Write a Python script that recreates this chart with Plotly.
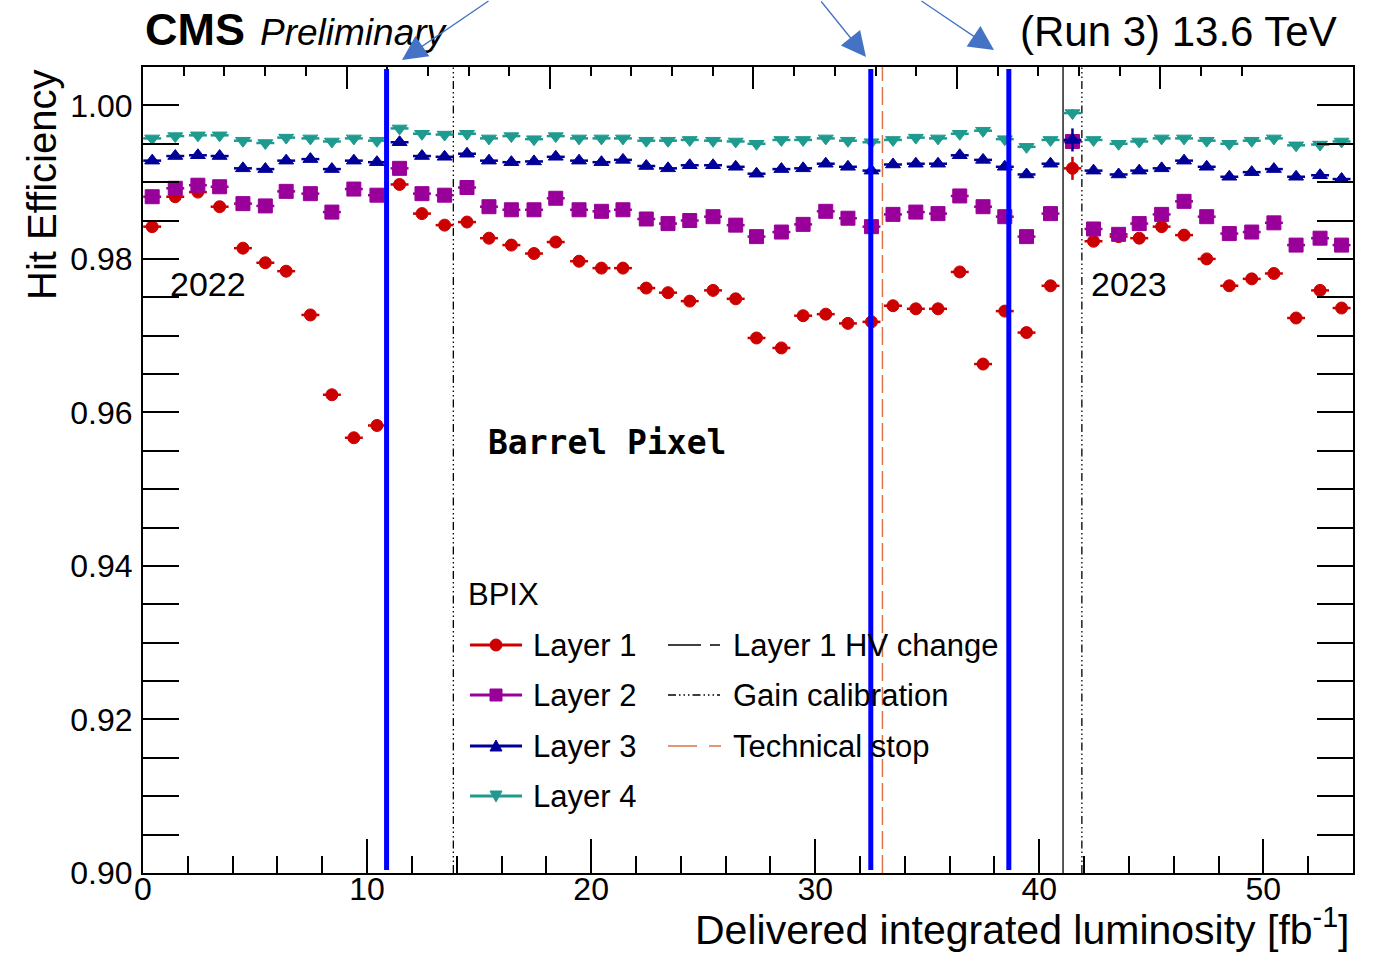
import plotly.graph_objects as go

# ---------------- data ----------------
lumi = [0.41, 1.44, 2.45, 3.42, 4.46, 5.46, 6.39, 7.47, 8.43, 9.41, 10.44,
        11.45, 12.45, 13.46, 14.46, 15.44, 16.44, 17.45, 18.42, 19.46, 20.46,
        21.42, 22.46, 23.43, 24.40, 25.44, 26.45, 27.38, 28.49, 29.46, 30.47,
        31.46, 32.51, 33.47, 34.49, 35.48, 36.45, 37.49, 38.46, 39.43, 40.50,
        42.42, 43.54, 44.46, 45.46, 46.46, 47.47, 48.48, 49.48, 50.47, 51.46,
        52.53, 53.49]

layer1 = [0.9842, 0.9881, 0.9887, 0.9868, 0.9814, 0.9795, 0.9784, 0.9727, 0.9623,
          0.9567, 0.9583, 0.9897, 0.9859, 0.9844, 0.9848, 0.9827, 0.9818, 0.9807,
          0.9822, 0.9797, 0.9788, 0.9788, 0.9762, 0.9756, 0.9745, 0.9759, 0.9748,
          0.9697, 0.9684, 0.9726, 0.9728, 0.9716, 0.9718, 0.9739, 0.9735, 0.9735,
          0.9783, 0.9663, 0.9732, 0.9704, 0.9765,
          0.9823, 0.9829, 0.9827, 0.9842, 0.9831, 0.9800, 0.9765, 0.9774, 0.9781,
          0.9723, 0.9759, 0.9736]
layer2 = [0.9881, 0.9892, 0.9896, 0.9894, 0.9872, 0.9869, 0.9888, 0.9885, 0.9861,
          0.9891, 0.9883, 0.9918, 0.9885, 0.9883, 0.9893, 0.9868, 0.9864, 0.9864,
          0.9879, 0.9864, 0.9862, 0.9864, 0.9852, 0.9846, 0.9850, 0.9855, 0.9844,
          0.9829, 0.9835, 0.9845, 0.9862, 0.9853, 0.9842, 0.9858, 0.9861, 0.9859,
          0.9882, 0.9868, 0.9855, 0.9829, 0.9859,
          0.9839, 0.9832, 0.9846, 0.9858, 0.9875, 0.9855, 0.9833, 0.9835, 0.9847,
          0.9818, 0.9827, 0.9818]
layer3 = [0.9928, 0.9934, 0.9935, 0.9934, 0.9918, 0.9917, 0.9928, 0.9930, 0.9917,
          0.9928, 0.9926, 0.9952, 0.9934, 0.9933, 0.9937, 0.9928, 0.9926, 0.9927,
          0.9933, 0.9928, 0.9926, 0.9929, 0.9921, 0.9918, 0.9922, 0.9922, 0.9920,
          0.9911, 0.9917, 0.9918, 0.9924, 0.9920, 0.9915, 0.9923, 0.9924, 0.9924,
          0.9935, 0.9929, 0.9920, 0.9910, 0.9924,
          0.9915, 0.9910, 0.9915, 0.9918, 0.9928, 0.9920, 0.9907, 0.9913, 0.9917,
          0.9907, 0.9909, 0.9904]
layer4 = [0.9957, 0.9960, 0.9961, 0.9961, 0.9954, 0.9951, 0.9958, 0.9957, 0.9953,
          0.9957, 0.9954, 0.9970, 0.9963, 0.9962, 0.9963, 0.9957, 0.9960, 0.9956,
          0.9960, 0.9957, 0.9957, 0.9957, 0.9954, 0.9954, 0.9955, 0.9954, 0.9953,
          0.9950, 0.9955, 0.9955, 0.9957, 0.9954, 0.9952, 0.9955, 0.9958, 0.9957,
          0.9963, 0.9967, 0.9956, 0.9946, 0.9955,
          0.9955, 0.9950, 0.9953, 0.9957, 0.9957, 0.9954, 0.9950, 0.9954, 0.9957,
          0.9948, 0.9949, 0.9953]

# single low-statistics point between the 2022 and 2023 periods
special_lumi = [41.48]
special_vals = [0.9918, 0.9953, 0.9955, 0.9990]
special_errs = [0.0015, 0.0010, 0.0015, 0.0005]

layer_names = ["Layer 1", "Layer 2", "Layer 3", "Layer 4"]
layer_colors = ["#CC0000", "#990099", "#000099", "#1F9A8F"]
layer_symbols = ["circle", "square", "triangle-up", "triangle-down"]
layer_sizes = [12, 14, 13, 13]
x_half_width = 0.4

hv_change_x = [41.06]
gain_calib_x = [13.85, 41.9]
tech_stop_x = [33.0]
highlight_x = [10.87, 32.48, 38.64]

y_ticks = [0.90, 0.92, 0.94, 0.96, 0.98, 1.00]
x_ticks = [0, 10, 20, 30, 40, 50]
top_major = [5, 10, 15, 20, 25]
top_minor = [1, 2, 3, 4, 6, 7, 8, 9, 11, 12, 13, 14, 16, 17, 18, 19, 21, 22,
             23, 24, 26, 27]

# ---------------- geometry helpers ----------------
W, H = 1374, 953
L, R, T, B = 143, 1353, 67, 873


def px(x):
    return (x - L) / (R - L)


def py(y):
    return (B - y) / (B - T)


FONT = "Liberation Sans"
fig = go.Figure()

all_layers = [layer1, layer2, layer3, layer4]
for i in range(4):
    c = layer_colors[i]
    fig.add_trace(go.Scatter(
        x=lumi, y=all_layers[i], mode="markers", name=layer_names[i],
        marker=dict(symbol=layer_symbols[i], size=layer_sizes[i], color=c,
                    line=dict(width=1, color=c)),
        error_x=dict(type="constant", value=x_half_width, color=c,
                     thickness=2.5, width=0),
        showlegend=False))
for i in range(4):
    c = layer_colors[i]
    fig.add_trace(go.Scatter(
        x=special_lumi, y=[special_vals[i]], mode="markers",
        marker=dict(symbol=layer_symbols[i], size=layer_sizes[i], color=c,
                    line=dict(width=1, color=c)),
        error_x=dict(type="constant", value=x_half_width, color=c,
                     thickness=2.5, width=0),
        error_y=dict(type="constant", value=special_errs[i], color=c,
                     thickness=2.5, width=0),
        showlegend=False))

# empty trace to carry the top axis
fig.add_trace(go.Scatter(x=[], y=[], xaxis="x2", yaxis="y", showlegend=False))

shapes = []
for xv in gain_calib_x:
    shapes.append(dict(type="line", xref="x", yref="paper", x0=xv, x1=xv, y0=0, y1=1,
                       line=dict(color="black", width=1.3,
                                 dash="8px,3px,1.5px,3px,1.5px,3px,1.5px,3px"),
                       layer="below"))
for xv in hv_change_x:
    shapes.append(dict(type="line", xref="x", yref="paper", x0=xv, x1=xv, y0=0, y1=1,
                       line=dict(color="black", width=1.3), layer="below"))
for xv in tech_stop_x:
    shapes.append(dict(type="line", xref="x", yref="paper", x0=xv, x1=xv, y0=0, y1=1,
                       line=dict(color="#D9764A", width=1.5, dash="18px,6px"),
                       layer="below"))
for xv in highlight_x:
    shapes.append(dict(type="line", xref="x", yref="paper", x0=xv, x1=xv,
                       y0=py(870), y1=py(69),
                       line=dict(color="#0000FF", width=5), layer="above"))


def txt(text, x, y, size, xanchor="center", yanchor="middle", family=FONT, angle=0):
    return dict(text=text, x=px(x), y=py(y), xref="paper", yref="paper",
                xanchor=xanchor, yanchor=yanchor, showarrow=False, textangle=angle,
                font=dict(family=family, size=size, color="black"))


annotations = []
annotations.append(txt("<b>CMS</b>", 143, 30, 45, xanchor="left"))
annotations.append(txt("<i>Preliminary</i>", 258, 33, 37, xanchor="left"))
annotations.append(txt("(Run 3) 13.6 TeV", 1339, 31, 42, xanchor="right"))
annotations.append(txt("2022", 208, 284, 34))
annotations.append(txt("2023", 1129, 284, 34))
annotations.append(txt("<b>Barrel Pixel</b>", 607, 443, 33, family="DejaVu Sans Mono"))
annotations.append(txt("Hit Efficiency", 42, 185, 40, angle=-90))
annotations.append(txt("Delivered integrated luminosity [fb<sup>-1</sup>]", 1352, 955, 41,
                       xanchor="right", yanchor="bottom"))

# legend (drawn by hand, two columns)
annotations.append(txt("BPIX", 466, 594, 31, xanchor="left"))
row_y = [645, 695, 746, 796]
for i in range(4):
    yy = row_y[i]
    c = layer_colors[i]
    annotations.append(txt(layer_names[i], 531, yy, 31, xanchor="left"))
    shapes.append(dict(type="line", xref="paper", yref="paper", x0=px(470), x1=px(522),
                       y0=py(yy), y1=py(yy), line=dict(color=c, width=3)))
    cx = 496
    if i == 0:
        shapes.append(dict(type="circle", xref="paper", yref="paper", x0=px(cx - 6),
                           x1=px(cx + 6), y0=py(yy + 6), y1=py(yy - 6),
                           fillcolor=c, line=dict(color=c, width=1)))
    elif i == 1:
        shapes.append(dict(type="rect", xref="paper", yref="paper", x0=px(cx - 6),
                           x1=px(cx + 6), y0=py(yy + 6), y1=py(yy - 6),
                           fillcolor=c, line=dict(color=c, width=1)))
    elif i == 2:
        path = "M %f,%f L %f,%f L %f,%f Z" % (px(cx - 6), py(yy + 5), px(cx + 6), py(yy + 5),
                                             px(cx), py(yy - 6))
        shapes.append(dict(type="path", xref="paper", yref="paper", path=path,
                           fillcolor=c, line=dict(color=c, width=1)))
    else:
        path = "M %f,%f L %f,%f L %f,%f Z" % (px(cx - 6), py(yy - 5), px(cx + 6), py(yy - 5),
                                             px(cx), py(yy + 6))
        shapes.append(dict(type="path", xref="paper", yref="paper", path=path,
                           fillcolor=c, line=dict(color=c, width=1)))

right_names = ["Layer 1 HV change", "Gain calibration", "Technical stop"]
for j in range(3):
    annotations.append(txt(right_names[j], 731, row_y[j], 31, xanchor="left"))
# HV change sample: long dash + short dash
shapes.append(dict(type="line", xref="paper", yref="paper", x0=px(668), x1=px(701),
                   y0=py(row_y[0]), y1=py(row_y[0]), line=dict(color="black", width=1.5)))
shapes.append(dict(type="line", xref="paper", yref="paper", x0=px(710), x1=px(720),
                   y0=py(row_y[0]), y1=py(row_y[0]), line=dict(color="black", width=1.5)))
# gain calibration sample
shapes.append(dict(type="line", xref="paper", yref="paper", x0=px(668), x1=px(720),
                   y0=py(row_y[1]), y1=py(row_y[1]),
                   line=dict(color="black", width=1.3,
                             dash="8px,3px,1.5px,3px,1.5px,3px,1.5px,3px")))
# technical stop sample
shapes.append(dict(type="line", xref="paper", yref="paper", x0=px(668), x1=px(697),
                   y0=py(row_y[2]), y1=py(row_y[2]), line=dict(color="#D9764A", width=1.5)))
shapes.append(dict(type="line", xref="paper", yref="paper", x0=px(709), x1=px(721),
                   y0=py(row_y[2]), y1=py(row_y[2]), line=dict(color="#D9764A", width=1.5)))

# arrows added on top
arrow_tips = [(402, 60, 88, -62), (866, 57, -46, -59), (994, 50, -74, -52)]
for (tx, ty, ax, ay) in arrow_tips:
    annotations.append(dict(text="", x=px(tx), y=py(ty), xref="paper", yref="paper",
                            ax=ax, ay=ay, axref="pixel", ayref="pixel", showarrow=True,
                            arrowhead=2, arrowsize=3.8, arrowwidth=1.3,
                            arrowcolor="#4472C4"))

fig.update_layout(
    width=W, height=H,
    margin=dict(l=L, r=W - R, t=T, b=H - B, pad=0),
    paper_bgcolor="white", plot_bgcolor="white",
    font=dict(family=FONT, color="black"),
    showlegend=False,
    shapes=shapes, annotations=annotations,
    xaxis=dict(range=[0, 54], tickvals=x_ticks, ticks="inside", ticklen=34, tickwidth=1.5,
               tickcolor="black", showline=True, linewidth=2, linecolor="black",
               mirror=True, showgrid=False, zeroline=False, ticklabelstandoff=-13,
               tickfont=dict(family=FONT, size=32, color="black"),
               minor=dict(dtick=2, tick0=0, ticks="inside", ticklen=17, tickwidth=1.5,
                          tickcolor="black", showgrid=False)),
    xaxis2=dict(range=[0, 29.73], overlaying="x", side="top", anchor="y",
                tickvals=top_major, ticks="inside", ticklen=22, tickwidth=1.5,
                tickcolor="black", showticklabels=False, showgrid=False, zeroline=False,
                showline=False,
                minor=dict(tickvals=top_minor, ticks="inside", ticklen=9, tickwidth=1.5,
                           tickcolor="black", showgrid=False)),
    yaxis=dict(range=[0.90, 1.005], tickvals=y_ticks,
               ticktext=["%.2f" % v for v in y_ticks], ticks="inside", ticklen=36,
               tickwidth=1.5, tickcolor="black", showline=True, linewidth=2,
               linecolor="black", mirror="allticks", showgrid=False, zeroline=False,
               ticklabelstandoff=2,
               tickfont=dict(family=FONT, size=32, color="black"),
               minor=dict(dtick=0.005, tick0=0.9, ticks="inside", ticklen=17, tickwidth=1.5,
                          tickcolor="black", showgrid=False)),
)

fig.write_html("out.html")
